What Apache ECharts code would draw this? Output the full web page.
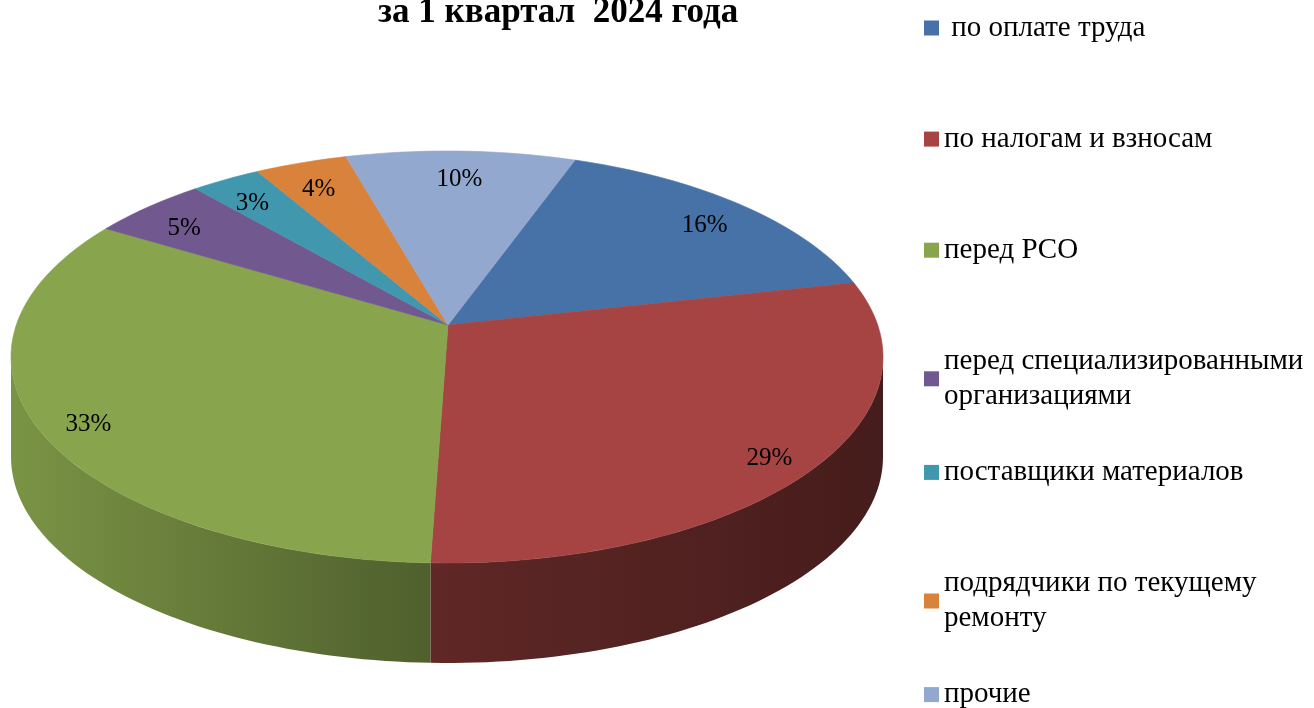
<!DOCTYPE html>
<html>
<head>
<meta charset="utf-8">
<script src="https://cdn.jsdelivr.net/npm/echarts@6/dist/echarts.min.js"></script>
<style>
  html, body { margin: 0; padding: 0; background: #fff; }
  #chart { width: 1314px; height: 708px; }
</style>
</head>
<body>
<div id="chart"></div>
<script>
// data
const categories = [
  ' по оплате труда',
  'по налогам и взносам',
  'перед РСО',
  'перед специализированными\nорганизациями',
  'поставщики материалов',
  'подрядчики по текущему\nремонту',
  'прочие'
];
const shares = [16, 29, 33, 5, 3, 4, 10];
const colors = ['#4672a7', '#a54442', '#88a44d', '#71588f', '#4197ae', '#d9823c', '#92a8ce'];

// pseudo 3D pie geometry
const cx = 447, cy = 357, rx = 436, ry = 206;
const ax = 448, ay = 325;   // where slices meet (perspective)
const depth = 100;
const startDeg = 20;
const labelFrac = 0.88;

const total = shares.reduce((a, b) => a + b, 0);
const cumStart = [];
shares.reduce((acc, v, i) => { cumStart[i] = acc; return acc + v; }, 0);

const rad = d => d * Math.PI / 180;

// ray from the apex at angle deg (clockwise from 12 o'clock) hitting the rim ellipse
function rim(deg) {
  const dx = Math.sin(rad(deg)), dy = -Math.cos(rad(deg));
  const axn = (ax - cx) / rx, ayn = (ay - cy) / ry;
  const b = axn * dx + ayn * dy;
  const c = axn * axn + ayn * ayn - 1;
  const t = -b + Math.sqrt(b * b - c);
  return { x: cx + rx * (axn + t * dx), y: cy + ry * (ayn + t * dy), t, dx, dy };
}

function psiOf(p) {
  let a = Math.atan2((p.x - cx) / rx, -(p.y - cy) / ry) * 180 / Math.PI;
  return a < 0 ? a + 360 : a;
}

// brightness of the side wall, by x
function shadeAt(x) {
  if (x <= cx) return 0.9 - (x - (cx - rx)) / rx * 0.33;
  return 0.57 - (x - cx) / rx * 0.15;
}

function darken(hex, k) {
  const n = parseInt(hex.slice(1), 16);
  const r = Math.round(((n >> 16) & 255) * k);
  const g = Math.round(((n >> 8) & 255) * k);
  const b = Math.round((n & 255) * k);
  return 'rgb(' + r + ',' + g + ',' + b + ')';
}

function renderSlice(params, api) {
  const value = api.value(0);
  const before = api.value(1);
  const color = colors[params.seriesIndex];
  const a0 = startDeg + before / total * 360;
  const a1 = startDeg + (before + value) / total * 360;
  const children = [];

  // top face
  const top = [[ax, ay]];
  const steps = Math.max(8, Math.ceil((a1 - a0) / 1.5));
  for (let i = 0; i <= steps; i++) {
    const p = rim(a0 + (a1 - a0) * i / steps);
    top.push([p.x, p.y]);
  }
  children.push({
    type: 'polygon', z2: 10,
    shape: { points: top },
    style: { fill: color, stroke: color, lineWidth: 0.6 }
  });

  // side wall (front half only)
  let p0 = psiOf(rim(a0)), p1 = psiOf(rim(a1));
  if (p1 <= p0) p1 += 360;
  [[90, 270], [450, 630]].forEach(([lo, hi]) => {
    const s = Math.max(p0, lo), e = Math.min(p1, hi);
    if (e <= s) return;
    const up = [], down = [];
    const n = Math.max(8, Math.ceil((e - s) / 1.5));
    for (let i = 0; i <= n; i++) {
      const ps = rad(s + (e - s) * i / n);
      const x = cx + rx * Math.sin(ps), y = cy - ry * Math.cos(ps);
      up.push([x, y]);
      down.unshift([x, y + depth]);
    }
    const xs = up.map(p => p[0]);
    const xmin = Math.min(...xs), xmax = Math.max(...xs);
    const stops = [];
    for (let k = 0; k <= 6; k++) {
      const x = xmin + (xmax - xmin) * k / 6;
      stops.push({ offset: k / 6, color: darken(color, shadeAt(x)) });
    }
    children.push({
      type: 'polygon', z2: 1,
      shape: { points: up.concat(down) },
      style: {
        fill: { type: 'linear', x: xmin, y: 0, x2: xmax, y2: 0, global: true, colorStops: stops }
      }
    });
  });

  // percentage label
  const mid = rim((a0 + a1) / 2);
  children.push({
    type: 'text', z2: 20,
    style: {
      text: Math.round(value / total * 100) + '%',
      x: ax + labelFrac * mid.t * rx * mid.dx,
      y: ay + labelFrac * mid.t * ry * mid.dy + 7,
      align: 'center', verticalAlign: 'middle',
      fontFamily: 'Liberation Serif', fontSize: 25, fill: '#000'
    }
  });

  return { type: 'group', children };
}

const chart = echarts.init(document.getElementById('chart'));

const option = {
  animation: false,
  color: colors,
  title: {
    text: 'за 1 квартал  2024 года',
    left: 373,
    top: -10,
    textStyle: { fontFamily: 'Liberation Serif', fontSize: 35, fontWeight: 'bold', color: '#000' }
  },
  legend: categories.map((name, i) => ({
    data: [name],
    orient: 'vertical',
    left: 924,
    top: 10.5 + i * 111.1,
    icon: 'rect',
    itemWidth: 15,
    itemHeight: 15,
    itemGap: 0,
    padding: 0,
    selectedMode: false,
    textStyle: { fontFamily: 'Liberation Serif', fontSize: 29, lineHeight: 35, color: '#000' }
  })),
  series: categories.map((name, i) => ({
    type: 'custom',
    name: name,
    coordinateSystem: 'none',
    itemStyle: { color: colors[i] },
    data: [[shares[i], cumStart[i]]],
    renderItem: renderSlice
  }))
};

chart.setOption(option);
window.addEventListener('resize', () => chart.resize());
</script>
</body>
</html>
